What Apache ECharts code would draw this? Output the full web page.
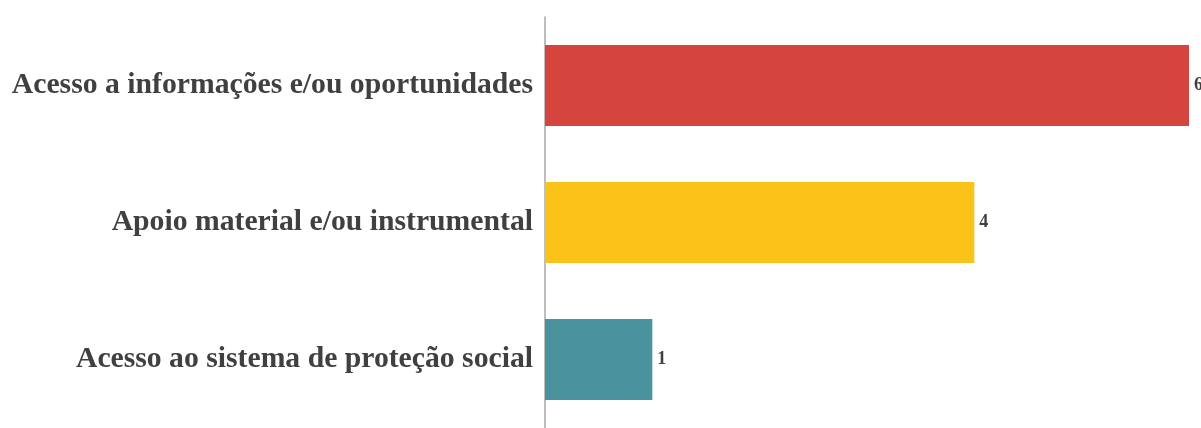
<!DOCTYPE html>
<html>
<head>
<meta charset="utf-8">
<script src="https://cdn.jsdelivr.net/npm/echarts@6/dist/echarts.min.js"></script>
<style>
  html, body { margin: 0; padding: 0; background: #ffffff; }
  #chart { width: 1201px; height: 428px; }
</style>
</head>
<body>
<div id="chart"></div>
<script>
// Categories (top to bottom) and their counts
const categories = [
  'Acesso a informações e/ou oportunidades',
  'Apoio material e/ou instrumental',
  'Acesso ao sistema de proteção social'
];
const values = [6, 4, 1];
const barColors = ['#D6443E', '#FBC219', '#4A929C'];

const chart = echarts.init(document.getElementById('chart'));

chart.setOption({
  animation: false,
  backgroundColor: '#ffffff',
  grid: { left: 545, right: 12, top: 17, bottom: -5, containLabel: false },
  xAxis: {
    type: 'value',
    min: 0,
    max: 6,
    show: false
  },
  yAxis: {
    type: 'category',
    data: categories,
    inverse: true,
    axisLine: { show: true, lineStyle: { color: '#a8a8a8', width: 1.5 } },
    axisTick: { show: false },
    splitLine: { show: false },
    axisLabel: {
      margin: 12,
      color: '#404040',
      fontFamily: '"Liberation Serif", "Times New Roman", serif',
      fontWeight: 'bold',
      fontSize: 29.7
    }
  },
  series: [{
    type: 'bar',
    data: values.map((v, i) => ({ value: v, itemStyle: { color: barColors[i] } })),
    barCategoryGap: '41%',
    label: {
      show: true,
      position: 'right',
      distance: 5,
      color: '#404040',
      fontFamily: '"Liberation Serif", "Times New Roman", serif',
      fontWeight: 'bold',
      fontSize: 18
    }
  }]
});
</script>
</body>
</html>
